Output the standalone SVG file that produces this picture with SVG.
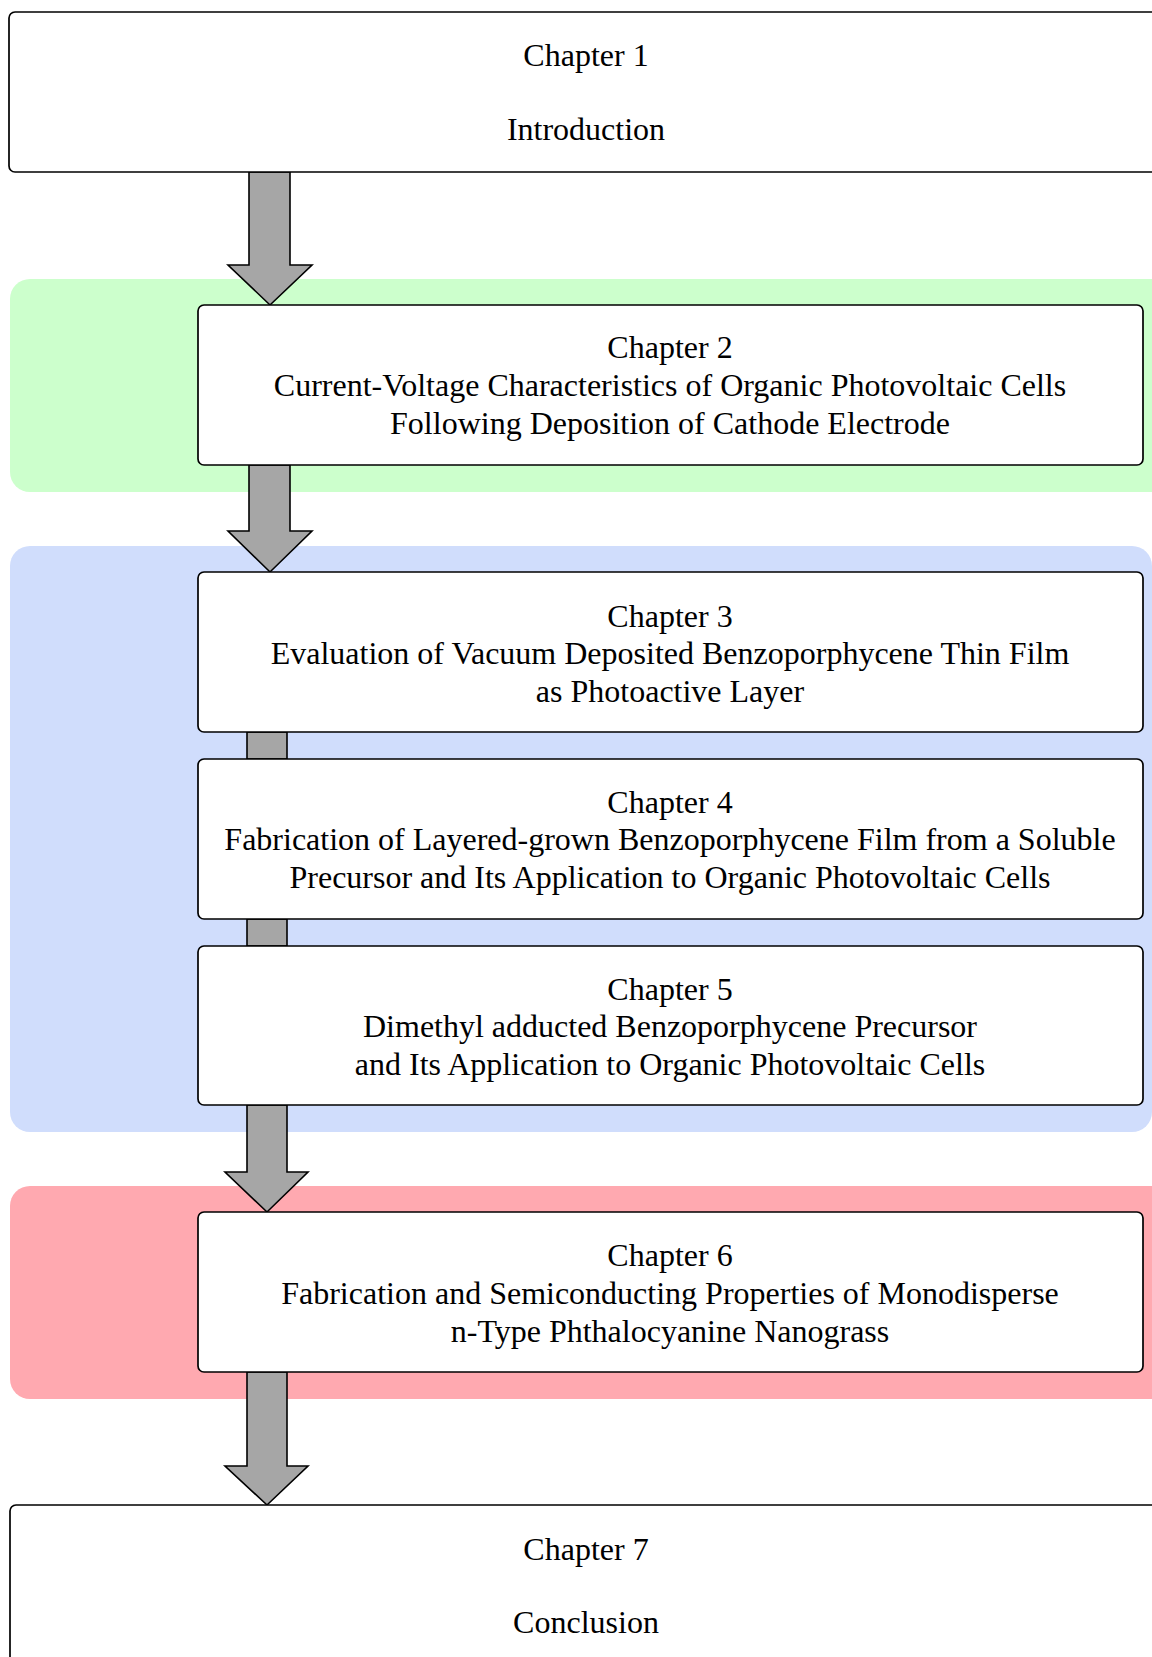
<svg xmlns="http://www.w3.org/2000/svg" width="1152" height="1657" viewBox="0 0 1152 1657">
<style>
.box{fill:#ffffff;stroke:#000000;stroke-width:1.7}
.arr{fill:#a6a6a6;stroke:#000000;stroke-width:1.6;stroke-linejoin:miter}
.t{font-family:"Liberation Serif","Times New Roman",serif;font-size:32px;fill:#000000;text-anchor:middle}
</style>
<rect width="1152" height="1657" fill="#ffffff"/>
<g id="bands">
<rect id="band-green" x="10" y="279" width="1170" height="213" rx="20" fill="#ccffcc"/>
<rect id="band-blue" x="10" y="546" width="1142" height="586" rx="20" fill="#d0ddfc"/>
<rect id="band-red" x="10" y="1186" width="1170" height="213" rx="20" fill="#ffa9b0"/>
</g>
<g id="connectors">
<path class="arr" d="M249,172 L290,172 L290,265 L312,265 L270,305 L228,265 L249,265 Z"/>
<path class="arr" d="M249,465 L290,465 L290,531 L312,531 L270,572 L228,531 L249,531 Z"/>
<rect class="arr" x="247" y="732" width="40" height="27"/>
<rect class="arr" x="247" y="919" width="40" height="27"/>
<path class="arr" d="M247,1105 L287,1105 L287,1172 L308,1172 L267,1212 L225,1172 L247,1172 Z"/>
<path class="arr" d="M247,1372 L287,1372 L287,1466 L308,1466 L267,1505 L225,1466 L247,1466 Z"/>
</g>
<g id="chapter1">
<rect class="box" x="9" y="12" width="1155" height="160" rx="6"/>
<text class="t" x="586" y="66">Chapter 1</text>
<text class="t" x="586" y="140">Introduction</text>
</g>
<g id="chapter2">
<rect class="box" x="198" y="305" width="945" height="160" rx="6"/>
<text class="t" x="670" y="358">Chapter 2</text>
<text class="t" x="670" y="396">Current-Voltage Characteristics of Organic Photovoltaic Cells</text>
<text class="t" x="670" y="434">Following Deposition of Cathode Electrode</text>
</g>
<g id="chapter3">
<rect class="box" x="198" y="572" width="945" height="160" rx="6"/>
<text class="t" x="670" y="627">Chapter 3</text>
<text class="t" x="670" y="664">Evaluation of Vacuum Deposited Benzoporphycene Thin Film</text>
<text class="t" x="670" y="702">as Photoactive Layer</text>
</g>
<g id="chapter4">
<rect class="box" x="198" y="759" width="945" height="160" rx="6"/>
<text class="t" x="670" y="813">Chapter 4</text>
<text class="t" x="670" y="850">Fabrication of Layered-grown Benzoporphycene Film from a Soluble</text>
<text class="t" x="670" y="888">Precursor and Its Application to Organic Photovoltaic Cells</text>
</g>
<g id="chapter5">
<rect class="box" x="198" y="946" width="945" height="159" rx="6"/>
<text class="t" x="670" y="1000">Chapter 5</text>
<text class="t" x="670" y="1037">Dimethyl adducted Benzoporphycene Precursor</text>
<text class="t" x="670" y="1075">and Its Application to Organic Photovoltaic Cells</text>
</g>
<g id="chapter6">
<rect class="box" x="198" y="1212" width="945" height="160" rx="6"/>
<text class="t" x="670" y="1266">Chapter 6</text>
<text class="t" x="670" y="1304">Fabrication and Semiconducting Properties of Monodisperse</text>
<text class="t" x="670" y="1342">n-Type Phthalocyanine Nanograss</text>
</g>
<g id="chapter7">
<rect class="box" x="10" y="1505" width="1152" height="170" rx="6"/>
<text class="t" x="586" y="1560">Chapter 7</text>
<text class="t" x="586" y="1633">Conclusion</text>
</g>
</svg>
